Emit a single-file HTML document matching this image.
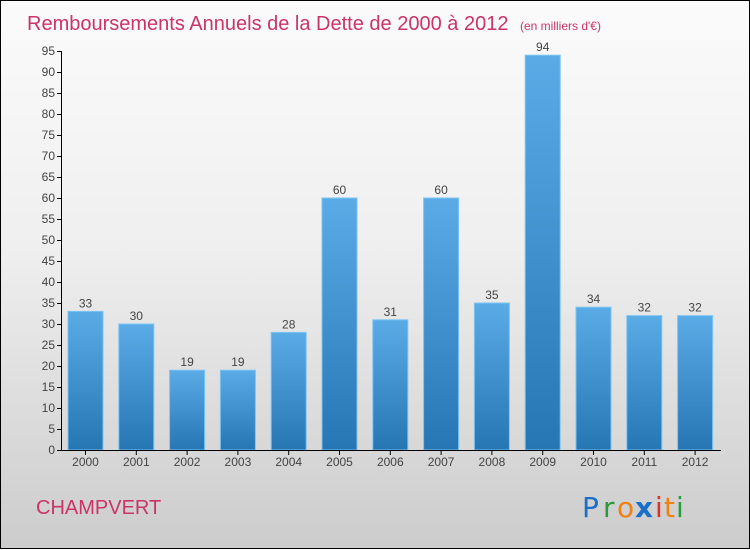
<!DOCTYPE html>
<html><head><meta charset="utf-8"><style>
body{margin:0;width:750px;height:550px;overflow:hidden;font-family:"Liberation Sans",sans-serif}
svg{display:block}
</style></head><body>
<svg width="750" height="550">
<defs>
<linearGradient id="bg" x1="0" y1="0" x2="0" y2="1"><stop offset="0" stop-color="#fbfbfb"/><stop offset="0.45" stop-color="#efefef"/><stop offset="1" stop-color="#cccccc"/></linearGradient>
<linearGradient id="bar" x1="0" y1="0" x2="0" y2="1"><stop offset="0" stop-color="#5aabe6"/><stop offset="1" stop-color="#2676b4"/></linearGradient>
</defs>
<rect x="0.5" y="0.5" width="749" height="548" fill="url(#bg)" stroke="#000"/>
<text x="27" y="30" font-size="20" fill="#cc3366">Remboursements Annuels de la Dette de 2000 à 2012 <tspan font-size="12" dx="6">(en milliers d'€)</tspan></text>
<g id="yaxis"></g>
<g id="bars"></g>
<g id="xaxis"></g>
<text x="36" y="514" font-size="20" fill="#cc3366">CHAMPVERT</text>
<g font-size="28" font-family="'DejaVu Sans',sans-serif">
<text x="582" y="517" fill="#1a70c8">P</text><text x="603" y="517" fill="#2a9a3a">r</text><text x="617" y="517" fill="#f08010">o</text><text x="635" y="517" fill="#1a70c8" font-weight="bold">x</text><text x="655" y="517" fill="#e03020">i</text><text x="664" y="517" fill="#f08010">t</text><text x="676" y="517" fill="#2a9a3a">i</text>
</g>
</svg>
<script>
const years=["2000","2001","2002","2003","2004","2005","2006","2007","2008","2009","2010","2011","2012"];
const values=[33,30,19,19,28,60,31,60,35,94,34,32,32];
const yTicks=[0,5,10,15,20,25,30,35,40,45,50,55,60,65,70,75,80,85,90,95];
const NS="http://www.w3.org/2000/svg";
const y0=450,pxPer=(450-51)/95;
const yS=v=>y0-v*pxPer;
const xS=i=>85.5+i*50.8;
function mk(t,a,p){const e=document.createElementNS(NS,t);for(const k in a)e.setAttribute(k,a[k]);p.appendChild(e);return e;}
const ya=document.getElementById('yaxis'),ba=document.getElementById('bars'),xa=document.getElementById('xaxis');
mk('line',{x1:61.5,y1:yS(95),x2:61.5,y2:y0,stroke:'#000'},ya);
yTicks.forEach(v=>{
 const l=mk('line',{x1:57,x2:61.5,y1:yS(v)+0.5,y2:yS(v)+0.5,stroke:'#000'},ya);
 
 
 const t=mk('text',{x:55,y:yS(v)+4,'font-size':12,'text-anchor':'end',fill:'#444'},ya);t.textContent=v;
 
 
});
mk('line',{x1:61.5,x2:721,y1:y0+0.5,y2:y0+0.5,stroke:'#000'},xa);
years.forEach((yr,i)=>{
 const x=xS(i),v=values[i];
 const r=mk('rect',{x:x-17.5,y:yS(v),width:35,height:y0-yS(v),fill:'url(#bar)',stroke:'#7cc4f2','stroke-width':1},ba);
 
 
 const vl=mk('text',{x:x,y:yS(v)-4,'font-size':12,'text-anchor':'middle',fill:'#444'},ba);vl.textContent=v;
 
 
 mk('line',{x1:x,x2:x,y1:y0,y2:y0+5,stroke:'#000'},xa);
 const t=mk('text',{x:x,y:466,'font-size':12,'text-anchor':'middle',fill:'#444'},xa);t.textContent=yr;
 
 
});
</script>
</body></html>
